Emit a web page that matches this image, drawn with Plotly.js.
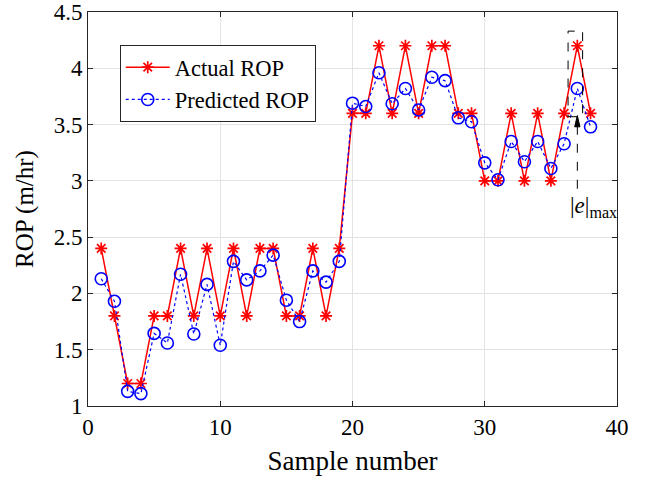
<!DOCTYPE html>
<html>
<head>
<meta charset="utf-8">
<script src="https://cdn.plot.ly/plotly-3.0.1.min.js"></script>
<style>html,body{margin:0;padding:0;background:#fff;}#chart{width:649px;height:482px;}</style>
</head>
<body>
<div id="chart"></div>
<script>
// ---- data ----
const sampleNumber = [1,2,3,4,5,6,7,8,9,10,11,12,13,14,15,16,17,18,19,20,21,22,23,24,25,26,27,28,29,30,31,32,33,34,35,36,37,38];
const actualROP = [2.4,1.8,1.2,1.2,1.8,1.8,2.4,1.8,2.4,1.8,2.4,1.8,2.4,2.4,1.8,1.8,2.4,1.8,2.4,
                   3.6,3.6,4.2,3.6,4.2,3.6,4.2,4.2,3.6,3.6,3.0,3.0,3.6,3.0,3.6,3.0,3.6,4.2,3.6];
const predictedROP = [2.13,1.93,1.13,1.11,1.645,1.56,2.17,1.64,2.08,1.54,2.285,2.12,2.2,2.34,1.94,1.75,2.2,2.10,2.285,
                      3.69,3.66,3.96,3.685,3.82,3.63,3.92,3.89,3.56,3.525,3.16,3.01,3.35,3.17,3.35,3.11,3.33,3.82,3.48];
const seriesNames = ["Actual ROP", "Predicted ROP"];
const xTickVals = [0,10,20,30,40];
const yTickVals = [1,1.5,2,2.5,3,3.5,4,4.5];
const yTickText = ["1","1.5","2","2.5","3","3.5","4","4.5"];
const maxErrIndex = 36; // sample 37
const maxErrLabel = "|<i>e</i>|<sub>max</sub>";

const FONT = "Liberation Serif, Times New Roman, Times, serif";
const AX = '#262626';

const traces = [
  {
    x: sampleNumber, y: actualROP, name: seriesNames[0], type: 'scatter', mode: 'lines+markers',
    line: {color: '#ff0000', width: 1.5},
    marker: {symbol: 'asterisk-open', size: 10, color: '#ff0000', line: {color: '#ff0000', width: 1.7}}
  },
  {
    x: sampleNumber, y: predictedROP, name: seriesNames[1], type: 'scatter', mode: 'lines+markers',
    line: {color: '#0000ff', width: 1.2, dash: 'dot'},
    marker: {symbol: 'circle-open', size: 12, color: '#0000ff', line: {color: '#0000ff', width: 1.6}}
  }
];

const xe = sampleNumber[maxErrIndex];
const yHead = 3.58;
const layout = {
  width: 649, height: 482,
  margin: {l: 88, r: 32, t: 12, b: 76},
  paper_bgcolor: '#ffffff', plot_bgcolor: '#ffffff',
  font: {family: FONT, color: '#000000', size: 22},
  showlegend: true,
  legend: {
    x: 0.06, y: 0.916, xanchor: 'left', yanchor: 'top',
    bgcolor: '#ffffff', bordercolor: AX, borderwidth: 1,
    font: {family: FONT, size: 22.5, color: '#000'},
    tracegroupgap: 0, itemwidth: 44
  },
  xaxis: {
    range: [0, 40], tickvals: xTickVals, ticktext: xTickVals.map(String),
    showline: true, linecolor: AX, linewidth: 1, mirror: 'ticks',
    ticks: 'inside', ticklen: 5, tickcolor: AX, tickwidth: 1,
    showgrid: true, gridcolor: '#e3e3e3', gridwidth: 1, zeroline: false,
    tickfont: {family: FONT, size: 23, color: '#000'},
    title: {text: 'Sample number', font: {family: FONT, size: 27, color: '#000'}, standoff: 12}
  },
  yaxis: {
    range: [1, 4.5], tickvals: yTickVals, ticktext: yTickText,
    showline: true, linecolor: AX, linewidth: 1, mirror: 'ticks',
    ticks: 'inside', ticklen: 5, tickcolor: AX, tickwidth: 1,
    showgrid: true, gridcolor: '#e3e3e3', gridwidth: 1, zeroline: false,
    tickfont: {family: FONT, size: 23, color: '#000'},
    title: {text: 'ROP (m/hr)', font: {family: FONT, size: 25, color: '#000'}, standoff: 12}
  },
  shapes: [
    {type: 'rect', xref: 'x', yref: 'y', x0: xe - 0.7, x1: xe + 0.4, y0: 3.57, y1: 4.33,
     line: {color: '#000', width: 1, dash: 'dash'}, fillcolor: 'rgba(0,0,0,0)'},
    {type: 'line', xref: 'x', yref: 'y', x0: xe, x1: xe, y0: 2.93, y1: yHead - 0.08,
     line: {color: '#000', width: 1, dash: 'dash'}},
    {type: 'path', xref: 'x', yref: 'y',
     path: 'M ' + (xe - 0.2) + ',' + (yHead - 0.1) + ' L ' + xe + ',' + yHead + ' L ' + (xe + 0.2) + ',' + (yHead - 0.1) + ' Z',
     line: {color: '#000', width: 1}, fillcolor: '#000'}
  ],
  annotations: [
    {x: xe - 0.72, y: 2.77, xref: 'x', yref: 'y', xanchor: 'left', yanchor: 'middle',
     showarrow: false, text: maxErrLabel, font: {family: FONT, size: 23, color: '#000'}}
  ]
};

Plotly.newPlot('chart', traces, layout, {displayModeBar: false, staticPlot: true});
</script>
</body>
</html>
